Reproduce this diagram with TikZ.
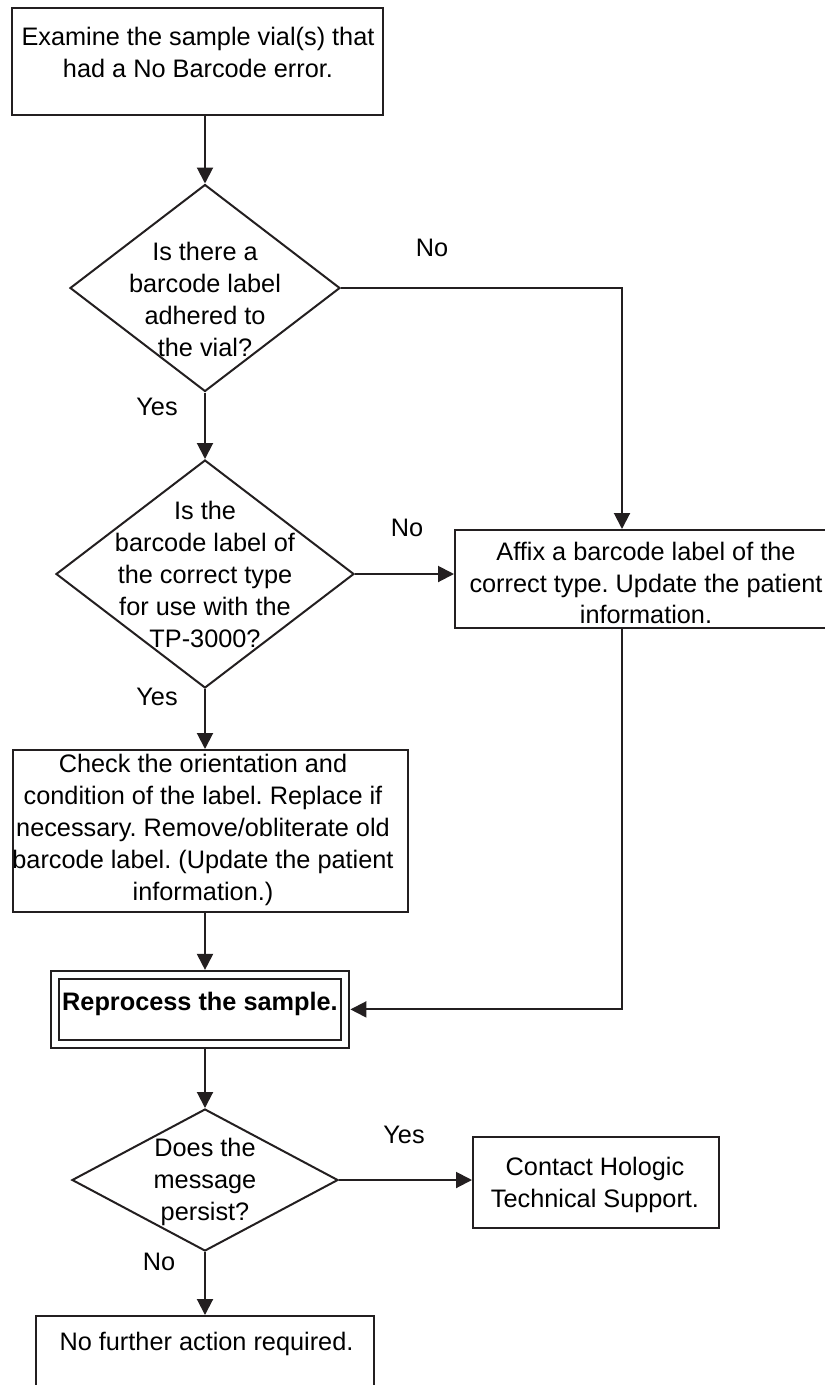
\documentclass[tikz,border=0pt]{standalone}
\usepackage{fontspec}
\setmainfont{Liberation Sans}
\usetikzlibrary{arrows.meta,shapes.geometric}
\definecolor{ink}{HTML}{231F20}
\frenchspacing
\begin{document}
\begin{tikzpicture}[x=1pt,y=-1pt,
  box/.style={draw=ink, line width=2pt, rectangle, inner sep=0pt},
  dblbox/.style={draw=ink, line width=2pt, double=white, double distance=6pt, rectangle, inner sep=0pt, outer sep=5pt},
  dia/.style={draw=ink, line width=2pt, diamond, inner sep=0pt},
  txt/.style={align=center, font=\fontsize{25.3}{31.8}\selectfont\frenchspacing, inner sep=0pt, text=black},
  lbl/.style={font=\fontsize{25.3}{31.8}\selectfont, inner sep=0pt, text=black},
  arr/.style={draw=ink, line width=2pt, -{Triangle[length=16pt,width=16pt]}},
  ln/.style={draw=ink, line width=2pt}]
\useasboundingbox (0,0) rectangle (825,1385);
\clip (0,0) rectangle (825,1385);
\coordinate (axis) at (205,0);
\coordinate (raxis) at (622,0);

% boxes and decisions
\node[box, minimum width=371pt, minimum height=107pt] (top) at (197.5,61.5) {};
\node[txt] (topt) at (198,52.5) {Examine the sample vial(s) that\\had a No Barcode error.};

\node[dia, minimum width=270pt, minimum height=207pt] (d1) at (205,288) {};
\node[txt] (d1t) at (205,299.5) {Is there a\\barcode label\\adhered to\\the vial?};

\node[dia, minimum width=298pt, minimum height=228pt] (d2) at (205,574) {};
\node[txt] (d2t) at (205,574.5) {Is the\\barcode label of\\the correct type\\for use with the\\TP-3000?};

\node[box, minimum width=395pt, minimum height=162pt] (chk) at (210.5,831) {};
\node[txt] (chkt) at (203,830) {Check the orientation and\\condition of the label. Replace if\\necessary. Remove/obliterate old\\barcode label. (Update the patient\\information.)};

\node[box, minimum width=383pt, minimum height=98pt] (aff) at (646.5,579) {};
\node[txt] (afft) at (646,583) {Affix a barcode label of the\\correct type. Update the patient\\information.};

\node[dblbox, minimum width=290pt, minimum height=69pt] (rep) at (200.4,1009.4) {};
\node[txt, font=\fontsize{25.3}{31.8}\selectfont\bfseries] (rept) at (200,1004) {Reprocess the sample.};

\node[dia, minimum width=266pt, minimum height=142pt] (d3) at (205,1180) {};
\node[txt] (d3t) at (205,1182) {Does the\\message\\persist?};

\node[box, minimum width=246pt, minimum height=91pt] (con) at (596,1182.5) {};
\node[txt] (cont) at (595,1185) {Contact Hologic\\Technical Support.};

\node[box, minimum width=338pt, minimum height=104pt] (end) at (205,1368) {};
\node[txt] (endt) at (206.5,1344) {No further action required.};

% connectors
\draw[arr] (top.south -| axis) -- (d1.north);
\draw[arr] (d1.south) -- (d2.north);
\draw[arr] (d2.south) -- (chk.north -| axis);
\draw[arr] (chk.south -| axis) -- (rep.north -| axis);
\draw[arr] (rep.south -| axis) -- (d3.north);
\draw[arr] (d3.south) -- (end.north -| axis);
\draw[arr] (d1.east) -| (aff.north -| raxis);
\draw[arr] (d2.east) -- (d2.east -| aff.west);
\draw[arr] (aff.south -| raxis) |- (rep.east);
\draw[arr] (d3.east) -- (d3.east -| con.west);

% labels
\node[lbl] (l1) at (432,248) {No};
\node[lbl] (l2) at (157,407) {Yes};
\node[lbl] (l3) at (407,528) {No};
\node[lbl] (l4) at (157,697) {Yes};
\node[lbl] (l5) at (404,1135) {Yes};
\node[lbl] (l6) at (159,1262) {No};
\end{tikzpicture}
\end{document}
